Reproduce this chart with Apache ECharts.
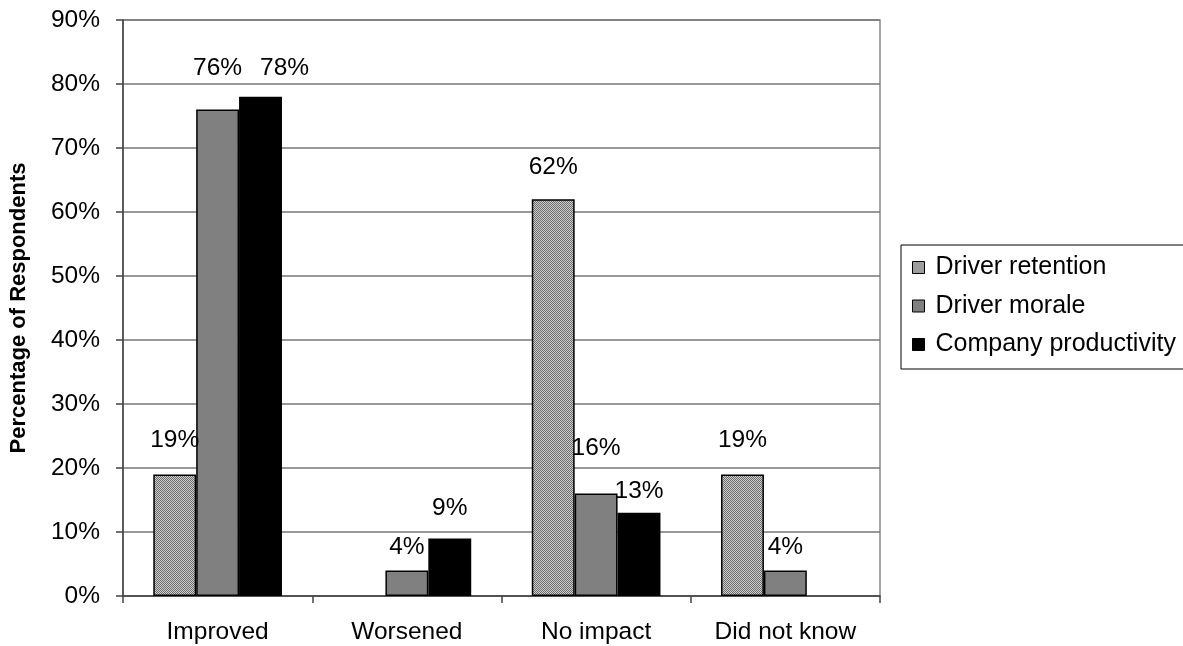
<!DOCTYPE html>
<html>
<head>
<meta charset="utf-8">
<script src="https://cdn.jsdelivr.net/npm/echarts@6/dist/echarts.min.js"></script>
<style>
html,body{margin:0;padding:0;background:#fff;}
#chart{width:1183px;height:646px;}
</style>
</head>
<body>
<div id="chart"></div>
<script>
const categories = ['Improved', 'Worsened', 'No impact', 'Did not know'];
const seriesNames = ['Driver retention', 'Driver morale', 'Company productivity'];
const retention = [19, 0, 62, 19];
const morale = [76, 4, 16, 4];
const productivity = [78, 9, 13, 0];
const yTicks = [0, 10, 20, 30, 40, 50, 60, 70, 80, 90];

// label placement (style only): distance above bar top, and x shift
const retentionLabelDist = [22, 0, 19, 22];
const moraleLabelDist = [29, 11, 33, 11];
const productivityLabelDist = [16, 18, 9, 0];
const productivityLabelShift = [24, 0, 0, 0];

// checkered pattern
const pc = document.createElement('canvas');
pc.width = 4; pc.height = 4;
const ctx = pc.getContext('2d');
for (let y = 0; y < 4; y++) {
  for (let x = 0; x < 4; x++) {
    ctx.fillStyle = ((x + y) % 2 === 0) ? '#6e6e6e' : '#cccccc';
    ctx.fillRect(x, y, 1, 1);
  }
}
const pattern = { image: pc, repeat: 'repeat' };

const FONT = 'Liberation Sans, Arial, sans-serif';
const FS = 24.5;

function makeData(vals, dists, shifts) {
  return vals.map((v, i) => {
    const item = { value: v, label: { distance: dists[i] } };
    if (shifts && shifts[i]) item.label.offset = [shifts[i], 0];
    if (v === 0) item.itemStyle = { borderWidth: 0 };
    return item;
  });
}

const labelBase = {
  show: true,
  position: 'top',
  fontFamily: FONT,
  fontSize: FS,
  color: '#000',
  formatter: p => (p.value ? p.value + '%' : '')
};

const chart = echarts.init(document.getElementById('chart'));
chart.setOption({
  animation: false,
  backgroundColor: '#fff',
  grid: {
    left: 122, right: 303, top: 20, bottom: 50,
    show: true, borderColor: '#888', borderWidth: 1.5, backgroundColor: 'transparent'
  },
  legend: {
    orient: 'vertical',
    left: 901, top: 245,
    data: seriesNames,
    itemWidth: 12, itemHeight: 12,
    itemGap: 13.5,
    padding: [10, 20, 12, 11],
    borderColor: '#000', borderWidth: 1,
    icon: 'rect',
    itemStyle: { borderColor: '#000', borderWidth: 1 },
    textStyle: { fontFamily: FONT, fontSize: 25, color: '#000', lineHeight: 25, padding: [0, 0, 0, 6] }
  },
  xAxis: {
    type: 'category',
    data: categories,
    axisLine: { lineStyle: { color: '#444', width: 1.5 } },
    axisTick: { show: true, interval: 0, alignWithLabel: false, length: 7, lineStyle: { color: '#444', width: 1.5 } },
    axisLabel: { fontFamily: FONT, fontSize: FS, color: '#000', margin: 24, interval: 0 },
    splitLine: { show: false }
  },
  yAxis: {
    type: 'value',
    min: 0, max: 90, interval: 10,
    name: 'Percentage of Respondents',
    nameLocation: 'middle',
    nameGap: 93,
    nameTextStyle: { fontFamily: FONT, fontSize: 22, fontWeight: 'bold', color: '#000' },
    axisLine: { show: true, lineStyle: { color: '#444', width: 1.5 } },
    axisTick: { show: true, length: 7, lineStyle: { color: '#444', width: 1.5 } },
    axisLabel: {
      fontFamily: FONT, fontSize: FS, color: '#000', margin: 23,
      formatter: v => (yTicks.indexOf(v) >= 0 ? v + '%' : '')
    },
    splitLine: { show: true, lineStyle: { color: '#777', width: 1.5 } }
  },
  series: [
    {
      name: seriesNames[0], type: 'bar',
      data: makeData(retention, retentionLabelDist),
      barGap: '0%', barCategoryGap: '32%',
      itemStyle: { color: pattern, borderColor: '#000', borderWidth: 1.5 },
      label: labelBase
    },
    {
      name: seriesNames[1], type: 'bar',
      data: makeData(morale, moraleLabelDist),
      barGap: '0%', barCategoryGap: '32%',
      itemStyle: { color: '#808080', borderColor: '#000', borderWidth: 1.5 },
      label: labelBase
    },
    {
      name: seriesNames[2], type: 'bar',
      data: makeData(productivity, productivityLabelDist, productivityLabelShift),
      barGap: '0%', barCategoryGap: '32%',
      itemStyle: { color: '#000', borderColor: '#000', borderWidth: 1.5 },
      label: labelBase
    }
  ]
});
</script>
</body>
</html>
